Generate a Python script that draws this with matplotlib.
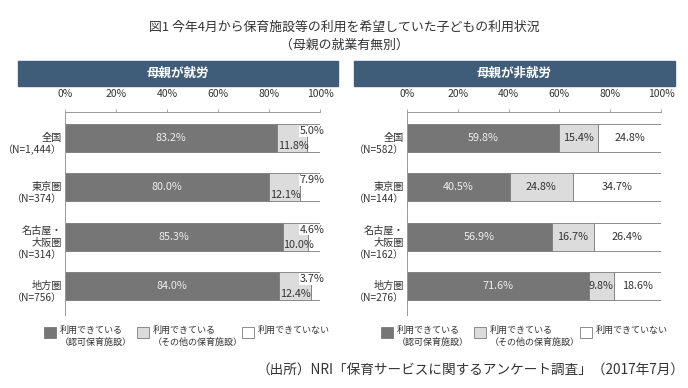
import matplotlib.pyplot as plt
from matplotlib.patches import Rectangle
from matplotlib.transforms import blended_transform_factory

plt.rcParams['font.family'] = ['Noto Sans CJK JP', 'DejaVu Sans']

W, H = 688, 388

# data
regions = ['全国', '東京圏', '名古屋・\n大阪圏', '地方圏']
n_working = ['1,444', '374', '314', '756']
n_nonworking = ['582', '144', '162', '276']
working_ninka = [83.2, 80.0, 85.3, 84.0]
working_other = [11.8, 12.1, 10.0, 12.4]
working_none = [5.0, 7.9, 4.6, 3.7]
nonworking_ninka = [59.8, 40.5, 56.9, 71.6]
nonworking_other = [15.4, 24.8, 16.7, 9.8]
nonworking_none = [24.8, 34.7, 26.4, 18.6]
panel_titles = ['母親が就労', '母親が非就労']
legend_labels = ['利用できている\n（認可保育施設）', '利用できている\n（その他の保育施設）', '利用できていない']
xticks = [0, 20, 40, 60, 80, 100]

DARK = '#767676'
LIGHT = '#dcdcdc'
WHITE = '#ffffff'
EDGE = '#7a7a7a'
TXT = '#333333'
BANNER = '#3f5d78'


def fx(px):
    return px / W


def fy(py):
    return 1 - py / H


fig = plt.figure(figsize=(W / 100, H / 100), dpi=100)

fig.text(0.5, fy(27), '図1 今年4月から保育施設等の利用を希望していた子どもの利用状況',
         ha='center', va='center', fontsize=9.3, color=TXT)
fig.text(0.5, fy(45), '（母親の就業有無別）', ha='center', va='center', fontsize=9.3, color=TXT)


def panel(x0, x1, bx0, bx1, title, ninka, other, none, ns, small_labels, leg_x):
    # header banner
    fig.patches.append(Rectangle((fx(bx0), fy(86)), fx(bx1) - fx(bx0), fy(61) - fy(86),
                                 transform=fig.transFigure, color=BANNER, zorder=0))
    fig.text((fx(bx0) + fx(bx1)) / 2, fy(73.5), title, ha='center', va='center',
             fontsize=9, color='white', fontweight='bold')

    ax = fig.add_axes([fx(x0), fy(315), fx(x1) - fx(x0), fy(112) - fy(315)])
    y = list(range(len(ninka)))
    left2 = [a for a in ninka]
    left3 = [a + b for a, b in zip(ninka, other)]
    ax.barh(y, ninka, height=0.57, color=DARK, edgecolor=EDGE, linewidth=0.6)
    ax.barh(y, other, left=left2, height=0.57, color=LIGHT, edgecolor=EDGE, linewidth=0.6)
    ax.barh(y, none, left=left3, height=0.57, color=WHITE, edgecolor=EDGE, linewidth=0.6)
    ax.set_xlim(0, 100)
    ax.set_ylim(3.59, -0.53)
    ax.xaxis.tick_top()
    ax.set_xticks(xticks)
    ax.set_xticklabels([f'{t}%' for t in xticks], fontsize=7.5, color=TXT)
    ax.tick_params(axis='x', length=2.5, width=0.6, color='#999999', pad=7)
    ax.set_yticks([])
    for s in ['right', 'bottom']:
        ax.spines[s].set_visible(False)
    for s in ['top', 'left']:
        ax.spines[s].set_color('#999999')
        ax.spines[s].set_linewidth(0.7)

    tr = blended_transform_factory(ax.transAxes, ax.transData)
    for i in y:
        ax.text(-0.012, i + 0.12, f'{regions[i]}\n（N={ns[i]}）', transform=tr,
                ha='right', va='center', fontsize=7.3, color=TXT, linespacing=1.25)
        ax.text(ninka[i] / 2, i, f'{ninka[i]:.1f}%', ha='center', va='center',
                fontsize=7.8, color='#eeeeee')
        if small_labels:
            ax.text(left2[i] + 0.3, i + 0.16, f'{other[i]:.1f}%', ha='left', va='center',
                    fontsize=7.8, color=TXT)
            ax.text(101.8, i - 0.14, f'{none[i]:.1f}%', ha='right', va='center',
                    fontsize=7.8, color=TXT, clip_on=False,
                    bbox=dict(facecolor='white', edgecolor='none', pad=0.5))
        else:
            ax.text(left2[i] + other[i] / 2, i, f'{other[i]:.1f}%', ha='center',
                    va='center', fontsize=7.8, color=TXT)
            ax.text(left3[i] + none[i] / 2, i, f'{none[i]:.1f}%', ha='center',
                    va='center', fontsize=7.8, color=TXT)

    # legend
    for lx, col, lab in zip(leg_x, [DARK, LIGHT, WHITE], legend_labels):
        fig.patches.append(Rectangle((fx(lx), fy(338)), fx(12), fy(327) - fy(338),
                                     transform=fig.transFigure, facecolor=col,
                                     edgecolor=EDGE, linewidth=0.6))
        fig.text(fx(lx + 16), fy(326), lab, ha='left', va='top', fontsize=6.5,
                 color=TXT, linespacing=1.3)


panel(65, 320, 18, 338, panel_titles[0], working_ninka, working_other, working_none,
      n_working, True, [44, 137, 242])
panel(407, 661, 354, 675, panel_titles[1], nonworking_ninka, nonworking_other,
      nonworking_none, n_nonworking, False, [381, 474, 580])

fig.text(fx(684), fy(370), '（出所）NRI「保育サービスに関するアンケート調査」（2017年7月）',
         ha='right', va='center', fontsize=9.8, color=TXT)

fig.savefig('out.png', dpi=100)
